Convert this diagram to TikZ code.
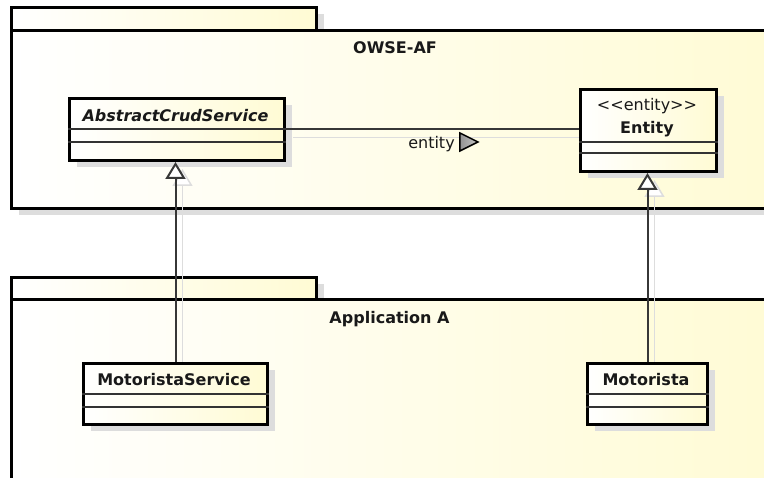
\documentclass[tikz,border=0pt]{standalone}
\usepackage{fontspec}
\setmainfont[Ligatures=NoCommon]{DejaVu Sans}
\usetikzlibrary{arrows.meta,shadows}
\definecolor{cream}{RGB}{255,251,212}
\definecolor{shad}{RGB}{221,221,221}
\definecolor{conncol}{RGB}{55,55,55}
\pgfdeclarelayer{pkglayer}
\pgfdeclarelayer{lnshadow}
\pgfsetlayers{pkglayer,lnshadow,main}
\tikzset{
  pkgbox/.style={rectangle, draw=black, line width=3pt, left color=white, right color=cream,
    inner sep=0pt, anchor=north west,
    drop shadow={shadow xshift=7pt, shadow yshift=-7pt, fill=shad, opacity=1}},
  clsbox/.style={rectangle, draw=black, line width=3pt, left color=white, right color=cream,
    inner sep=0pt, anchor=north west,
    drop shadow={shadow xshift=7pt, shadow yshift=-7pt, fill=shad, opacity=1}},
  txt/.style={font=\fontsize{16}{19}\selectfont, inner sep=0pt, anchor=base, text=black!90},
  sepline/.style={line width=1.3pt, draw=black!80},
  connline/.style={line width=2pt, draw=conncol},
  connshadow/.style={line width=1.5pt, draw=shad},
  genline/.style={connline, -{Triangle[length=17pt,width=20pt,fill=white]}},
  genshadow/.style={connshadow, -{Triangle[length=17pt,width=20pt,fill=white]}},
}
\begin{document}
\begin{tikzpicture}[x=1pt,y=-1pt]
\useasboundingbox (0,0) rectangle (764,478);
\clip (0,0) rectangle (764,478);
% packages
\begin{pgfonlayer}{pkglayer}
\node[pkgbox, minimum width=305pt, minimum height=23pt] (tab1) at (10,6) {};
\node[pkgbox, minimum width=780pt, minimum height=178pt] (owse) at (10,29) {};
\node[pkgbox, minimum width=305pt, minimum height=22pt] (tab2) at (10,276) {};
\node[pkgbox, minimum width=780pt, minimum height=200pt] (appa) at (10,298) {};
\end{pgfonlayer}
\node[txt] (owsel) at (395,53.3) {\textbf{OWSE-AF}};
\node[txt] (appal) at (389.5,323.3) {\textbf{Application A}};
% classes
\node[clsbox, minimum width=215pt, minimum height=62pt] (acs) at (68,97) {};
\node[txt] (acst) at (175.5,122) {\textbf{\textit{AbstractCrudService}}};
\draw[sepline] (acs.west |- 0,129) -- (acs.east |- 0,129);
\draw[sepline] (acs.west |- 0,142) -- (acs.east |- 0,142);

\node[clsbox, minimum width=136pt, minimum height=82pt] (ent) at (579,88) {};
\node[txt] (ents) at (647,111) {{<}{<}entity{>}{>}};
\node[txt] (entt) at (647,133.5) {\textbf{Entity}};
\draw[sepline] (ent.west |- 0,142) -- (ent.east |- 0,142);
\draw[sepline] (ent.west |- 0,153) -- (ent.east |- 0,153);

\node[clsbox, minimum width=184pt, minimum height=61pt] (ms) at (82,362) {};
\node[txt] (mst) at (174,385.7) {\textbf{MotoristaService}};
\draw[sepline] (ms.west |- 0,394) -- (ms.east |- 0,394);
\draw[sepline] (ms.west |- 0,407) -- (ms.east |- 0,407);

\node[clsbox, minimum width=120pt, minimum height=61pt] (mot) at (586,362) {};
\node[txt] (mott) at (646,385.3) {\textbf{Motorista}};
\draw[sepline] (mot.west |- 0,394) -- (mot.east |- 0,394);
\draw[sepline] (mot.west |- 0,407) -- (mot.east |- 0,407);

% connector shadows
\begin{pgfonlayer}{lnshadow}
\draw[connshadow] ([shift={(7,8)}]acs.east) -- ([shift={(7,8)}]acs.east -| ent.west);
\draw[genshadow] ([shift={(7,7)}]ms.north) -- ([shift={(7,7)}]ms.north |- acs.south);
\draw[genshadow] ([shift={(7,7)}]mot.north) -- ([shift={(7,7)}]mot.north |- ent.south);
\end{pgfonlayer}

% connectors
\draw[connline] (acs.east) -- (acs.east -| ent.west);
\node[txt] (assocl) at (431.5,149) {entity};
\draw[line width=1.5pt, draw=black, left color=gray!85, right color=gray!45]
  ([shift={(5,-16)}]assocl.base east) -- ([shift={(5,2)}]assocl.base east)
  -- ([shift={(23,-7)}]assocl.base east) -- cycle;
\draw[genline] (ms.north) -- (ms.north |- acs.south);
\draw[genline] (mot.north) -- (mot.north |- ent.south);
\end{tikzpicture}
\end{document}
